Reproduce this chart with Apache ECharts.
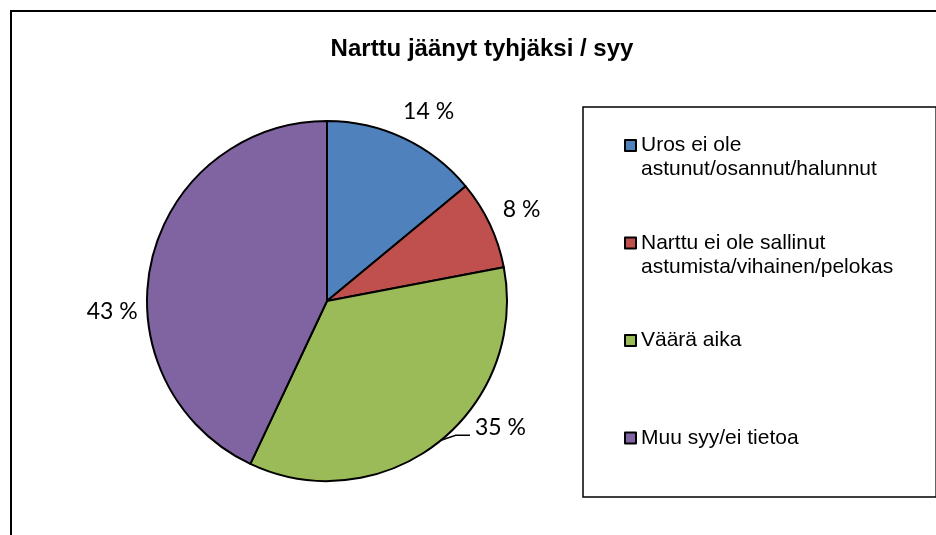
<!DOCTYPE html>
<html>
<head>
<meta charset="utf-8">
<script src="https://cdn.jsdelivr.net/npm/echarts@6/dist/echarts.min.js"></script>
<style>
html,body{margin:0;padding:0;background:#fff;}
#chart{width:936px;height:535px;}
</style>
</head>
<body>
<div id="chart"></div>
<script>
// ---- data ----
const titleText = 'Narttu jäänyt tyhjäksi / syy';
const categories = [
  'Uros ei ole\nastunut/osannut/halunnut',
  'Narttu ei ole sallinut\nastumista/vihainen/pelokas',
  'Väärä aika',
  'Muu syy/ei tietoa'
];
const values = [14, 8, 35, 43];

// ---- styling / layout constants ----
const colors = ['#4F81BD', '#C0504D', '#9BBB59', '#8064A2'];
const cx = 327, cy = 301, R = 180;
const labelDist = 35;
const labelShift = [3, 0, -16, -15.5];
const total = values.reduce((a, b) => a + b, 0);

function polar(rad, deg) {
  const a = deg * Math.PI / 180;
  return [cx + rad * Math.sin(a), cy - rad * Math.cos(a)];
}
function midAngle(i) {
  let s = 0;
  for (let k = 0; k < i; k++) s += values[k];
  return (s + values[i] / 2) / total * 360;
}

const chart = echarts.init(document.getElementById('chart'), null, {renderer: 'canvas'});
chart.setOption({
  animation: false,
  backgroundColor: '#fff',
  color: colors,
  graphic: [{
    type: 'rect',
    shape: {x: 11, y: 11, width: 2000, height: 2000},
    style: {fill: 'none', stroke: '#000', lineWidth: 2},
    silent: true,
    z: -1
  }],
  title: {
    text: titleText,
    left: 477,
    top: 32,
    textAlign: 'center',
    textStyle: {
      fontFamily: 'Liberation Sans, Arial, sans-serif',
      fontWeight: 'bold',
      fontSize: 24,
      color: '#000'
    }
  },
  legend: {
    orient: 'vertical',
    left: 583,
    top: 107,
    padding: [2.5, 43, 23, 41],
    itemGap: 25.5,
    itemWidth: 11,
    itemHeight: 11,
    icon: 'rect',
    borderColor: '#000',
    borderWidth: 1.5,
    formatter: function (name) {
      // keep the icon on the first text line: pad every entry to three lines
      return '\n' + name + (name.indexOf('\n') >= 0 ? '' : '\n');
    },
    textStyle: {
      fontFamily: 'Liberation Sans, Arial, sans-serif',
      fontSize: 21,
      lineHeight: 24,
      color: '#000'
    },
    data: categories
  },
  series: [{
    type: 'pie',
    center: [cx, cy],
    radius: R,
    startAngle: 90,
    clockwise: true,
    avoidLabelOverlap: false,
    itemStyle: {borderColor: '#000', borderWidth: 2},
    label: {
      show: true,
      position: 'outside',
      formatter: '{c} %',
      fontFamily: 'Lato, sans-serif',
      fontSize: 23,
      color: '#000'
    },
    labelLine: {show: true, lineStyle: {color: '#000', width: 1.5}},
    labelLayout: function (p) {
      const i = p.dataIndex;
      const mid = midAngle(i);
      const pos = polar(R + labelDist, mid + labelShift[i]);
      const out = {x: pos[0], y: pos[1], align: 'center', verticalAlign: 'middle'};
      if (i === 2) {
        const p0 = polar(R, mid - 1.5);
        const p1 = polar(R + 6, mid - 6);
        out.labelLinePoints = [p0, p1, [pos[0] - p.labelRect.width / 2 - 5, p1[1]]];
      }
      return out;
    },
    data: categories.map((n, i) => ({
      name: n,
      value: values[i],
      labelLine: {show: i === 2}
    }))
  }]
});
</script>
</body>
</html>
